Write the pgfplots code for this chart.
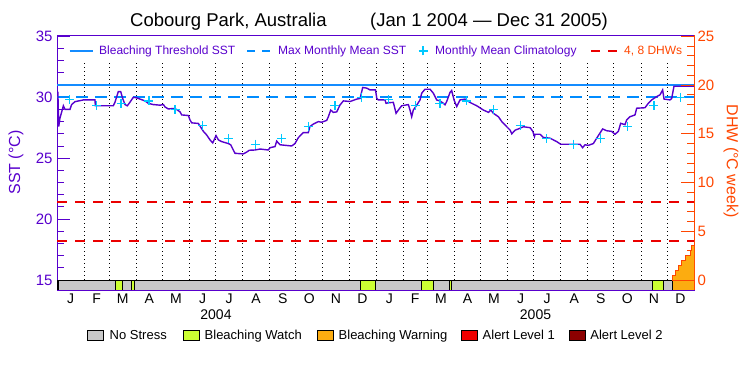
\documentclass[border=0pt]{standalone}
\usepackage{pgfplots}
\pgfplotsset{compat=1.18}
\usepackage{fontspec}
\setmainfont{Liberation Sans}
\definecolor{sstc}{RGB}{88,0,205}
\definecolor{thrc}{RGB}{20,140,255}
\definecolor{mmmblue}{RGB}{0,140,255}
\definecolor{climc}{RGB}{0,200,255}
\definecolor{dhwc}{RGB}{255,70,0}
\definecolor{dhwline}{RGB}{235,0,0}
\definecolor{nostress}{RGB}{200,200,200}
\definecolor{watch}{RGB}{204,255,51}
\definecolor{warning}{RGB}{252,172,16}
\definecolor{alertone}{RGB}{240,0,0}
\definecolor{alerttwo}{RGB}{140,0,0}
\newcommand\seg[3]{\addplot[fill=#3, draw=black, line width=0.8pt, forget plot] coordinates {(#1,14.179)(#1,15)(#2,15)(#2,14.179)} -- cycle;}
\begin{document}
\begin{tikzpicture}
\useasboundingbox (0pt,0pt) rectangle (750pt,375pt);
\begin{axis}[
  name=main,
  at={(57pt,85pt)}, anchor=south west, width=637pt, height=255pt, scale only axis,
  xmin=0, xmax=731, ymin=14.179, ymax=35.11,
  axis line style={line width=0.9pt},
  y axis line style={sstc},
  ytick={15,20,25,30,35}, minor y tick num=4,
  ytick pos=left, tick align=inside,
  major tick length=13pt, minor tick length=7pt,
  ytick style={sstc, line width=0.9pt},
  yticklabel style={sstc, font=\fontsize{15}{15}\selectfont, xshift=-1pt},
  xtick={15.5,45.5,75.5,106,136.5,167,197.5,228.5,259,289.5,320,350.5,381.5,411,440.5,471,501.5,532,562.5,593.5,624,654.5,685,715.5},
  xticklabels={J,F,M,A,M,J,J,A,S,O,N,D,J,F,M,A,M,J,J,A,S,O,N,D},
  xtick style={draw=none}, xtick pos=bottom,
  xticklabel style={font=\fontsize{14}{14}\selectfont, black},
  /pgf/number format/assume math mode=true,
]
% month grid
\addplot[black, line width=0.7pt, dash pattern=on 1pt off 3pt, unbounded coords=jump, forget plot] coordinates {
(31,15)(31,32.8)(31,nan)(60,15)(60,32.8)(60,nan)(91,15)(91,32.8)(91,nan)(121,15)(121,32.8)(121,nan)
(152,15)(152,32.8)(152,nan)(182,15)(182,32.8)(182,nan)(213,15)(213,32.8)(213,nan)(244,15)(244,32.8)(244,nan)
(274,15)(274,32.8)(274,nan)(305,15)(305,32.8)(305,nan)(335,15)(335,32.8)(335,nan)(366,15)(366,32.8)(366,nan)
(397,15)(397,32.8)(397,nan)(425,15)(425,32.8)(425,nan)(456,15)(456,32.8)(456,nan)(486,15)(486,32.8)(486,nan)
(517,15)(517,32.8)(517,nan)(547,15)(547,32.8)(547,nan)(578,15)(578,32.8)(578,nan)(609,15)(609,32.8)(609,nan)
(639,15)(639,32.8)(639,nan)(670,15)(670,32.8)(670,nan)(700,15)(700,32.8)};
% threshold and max monthly mean
\addplot[thrc, line width=1.3pt, forget plot] coordinates {(0,31.0)(731,31.0)};
\addplot[mmmblue, line width=1.6pt, dashed, dash pattern=on 12pt off 7pt, forget plot] coordinates {(0,30.0)(731,30.0)};
% SST
\addplot[sstc, line width=1.4pt, forget plot] coordinates {
(0,30.5)(1,30.4)(2,27.6)(3.4,28.3)(5.4,28.8)(7.3,29.3)(9.2,29.0)(14.9,29.0)(16.8,29.4)(20.7,29.64)(26.4,29.72)(30.2,29.78)
(43.6,29.78)(44,29.3)(64.6,29.3)(66.6,29.6)(68.5,30.05)(70.4,30.46)(73.1,30.46)(75.4,29.9)(78.0,29.4)(80.7,29.3)(83.8,29.6)
(87.6,30.0)(91.4,29.95)(95.3,29.85)(101,29.7)(104.8,29.5)(110.6,29.4)(118.2,29.35)(122.1,29.4)(124,29.2)(127.8,29.04)
(133.6,29.08)(137.3,29.0)(141.2,28.8)(143.1,28.55)(150.8,28.5)(152.6,28.14)(154.6,27.9)(162.2,27.85)(168,27.2)(171.8,26.9)
(175.6,26.5)(178.7,26.25)(182.5,26.85)(185.2,26.5)(189,26.36)(196.6,26.2)(199.3,26.1)(202.3,25.67)(204.3,25.4)(213.8,25.35)
(217.7,25.5)(220.7,25.65)(227.2,25.67)(233,25.75)(242.5,25.67)(244.4,25.86)(250.2,25.95)(252.1,26.4)(255.9,26.1)(269.3,26.0)
(273.1,26.2)(276.9,26.68)(282.7,27.1)(288.4,27.1)(290.3,27.6)(294.2,27.8)(299.9,28.0)(303.7,27.95)(309.5,28.1)(311.4,28.4)
(314.1,28.95)(317.1,28.76)(321,28.8)(324.8,29.37)(328.6,29.7)(336.3,29.65)(344,29.85)(347.8,29.9)(350.8,30.8)(355.4,30.75)
(359.2,30.6)(365.5,30.6)(367,29.9)(368.8,29.78)(376.4,29.78)(377.6,29.5)(380.3,29.55)(386,29.58)(389.1,28.68)(391.7,28.95)
(395.5,29.3)(403.2,29.4)(405.1,28.95)(407,28.4)(408.9,28.95)(412.8,29.35)(416.6,29.78)(418.5,30.33)(422.3,30.66)(428.1,30.66)
(431.9,30.33)(435.7,29.78)(439.5,29.7)(443.4,29.5)(445.3,29.38)(447.2,29.65)(451,30.4)(452.9,30.55)(455.6,29.78)(458.7,29.24)
(462.5,29.78)(468.3,29.85)(474,29.57)(481.7,29.3)(489.3,28.95)(495.1,28.76)(497.8,28.95)(500.8,28.68)(506.6,28.4)(510.4,28.0)
(516.1,27.58)(520,27.3)(521.9,27.0)(525.7,27.3)(529.5,27.4)(535.3,27.58)(543,27.5)(546,27.2)(547.9,26.77)(548.6,26.96)
(554.3,26.96)(558.1,26.7)(565.8,26.64)(569.6,26.5)(573.4,26.36)(578,26.14)(600.2,26.14)(603.2,25.86)(605.9,26.1)(609.7,26.05)
(615.5,26.2)(619.3,26.64)(623.1,27.06)(626.2,27.4)(630.8,27.25)(636.5,27.2)(640.3,26.96)(644.2,27.2)(646.8,27.86)(651.8,27.75)
(653.7,28.14)(657.5,28.4)(663.3,28.55)(665.2,29.1)(674.7,29.14)(678.5,29.5)(682.4,29.78)(688.1,30.05)(692,30.2)(695,30.6)
(696.6,29.85)(703.5,29.78)(705.4,29.9)(708,30.9)(731,30.9)};
% climatology
\addplot[climc, only marks, mark=+, mark size=4.5pt, mark options={line width=1.2pt}, forget plot] coordinates {
(14.5,29.8)(45.5,29.3)(73.5,29.5)(105.5,29.7)(135.5,29.0)(167,27.7)(196.5,26.6)(227.5,26.15)(258,26.6)(288.5,27.6)(319,29.3)(349.5,30.0)
(380.5,29.8)(411,29.3)(439.5,29.5)(470,29.7)(501,29.0)(531.5,27.7)(561.5,26.6)(592.5,26.15)(624,26.6)(654.5,27.6)(685,29.3)(715.5,30.0)};
% stress bar
\seg{0}{1.8}{watch}
\seg{1.8}{66.6}{nostress}
\seg{66.6}{74.6}{watch}
\seg{74.6}{85}{nostress}
\seg{85}{88.4}{watch}
\seg{88.4}{348.5}{nostress}
\seg{348.5}{365.7}{watch}
\seg{365.7}{418.5}{nostress}
\seg{418.5}{431.8}{watch}
\seg{431.8}{450.2}{nostress}
\seg{450.2}{452.2}{watch}
\seg{452.2}{683.6}{nostress}
\seg{683.6}{695.8}{watch}
\seg{695.8}{706.2}{nostress}
\seg{706.2}{731}{warning}
\end{axis}
\begin{axis}[
  at={(57pt,85pt)}, anchor=south west, width=637pt, height=255pt, scale only axis,
  xmin=0, xmax=731, ymin=-1.026, ymax=25.14,
  axis y line*=right, axis x line=none,
  y axis line style={dhwc, line width=0.9pt, -},
  ytick={0,5,10,15,20,25}, minor y tick num=4,
  tick align=inside, ytick align=inside,
  major tick length=13pt, minor tick length=7pt,
  ytick style={dhwc, line width=0.9pt},
  yticklabel style={dhwc, font=\fontsize{15}{15}\selectfont, xshift=0pt},
  /pgf/number format/assume math mode=true,
]
\addplot[dhwline, line width=1.2pt, dash pattern=on 10pt off 8pt, forget plot] coordinates {(0,4)(731,4)};
\addplot[dhwline, line width=1.2pt, dash pattern=on 10pt off 8pt, forget plot] coordinates {(0,8)(731,8)};
\addplot[const plot, fill=warning, draw=dhwc, line width=1pt, forget plot] coordinates {
(706.2,0.5)(709.2,1.0)(713,1.5)(716.9,2.0)(720.7,2.5)(726.4,3.0)(728.4,3.5)(731,3.5)} \closedcycle;
\end{axis}
% title
\node[anchor=base west, inner sep=0, font=\fontsize{18.5}{18.5}\selectfont] at (130pt,348.5pt) {Cobourg Park, Australia};
\node[anchor=base west, inner sep=0, font=\fontsize{18.5}{18.5}\selectfont] at (370pt,348.5pt) {(Jan 1 2004 --- Dec 31 2005)};
% axis labels
\node[rotate=90, text=sstc, font=\fontsize{16}{16}\selectfont] at (16pt,212.5pt) {SST (°C)};
\node[rotate=-90, text=dhwc, font=\fontsize{16}{16}\selectfont] at (731pt,214pt) {DHW (°C week)};
% top legend
\draw[thrc, line width=1.3pt] (69.5pt,324pt) -- (92.5pt,324pt);
\node[anchor=base west, inner sep=0, text=sstc, font=\fontsize{12}{12}\selectfont] at (99pt,320pt) {Bleaching Threshold SST};
\draw[mmmblue, line width=1.3pt, dash pattern=on 8pt off 7pt] (247pt,324pt) -- (270pt,324pt);
\node[anchor=base west, inner sep=0, text=sstc, font=\fontsize{12}{12}\selectfont] at (278pt,320pt) {Max Monthly Mean SST};
\draw[climc, line width=1.2pt] (418.5pt,324pt) -- (427.5pt,324pt) (423pt,319.5pt) -- (423pt,328.5pt);
\node[anchor=base west, inner sep=0, text=sstc, font=\fontsize{12}{12}\selectfont] at (435pt,320pt) {Monthly Mean Climatology};
\draw[dhwline, line width=1.2pt, dash pattern=on 9pt off 8pt] (591.3pt,324pt) -- (617.8pt,324pt);
\node[anchor=base west, inner sep=0, text=dhwc, font=\fontsize{12}{12}\selectfont] at (624pt,320pt) {4, 8 DHWs};
% years
\node[anchor=base, inner sep=0, font=\fontsize{14}{14}\selectfont] at (216pt,55pt) {2004};
\node[anchor=base, inner sep=0, font=\fontsize{14}{14}\selectfont] at (535.5pt,55pt) {2005};
% bottom legend
\begin{scope}[line width=0.8pt]
\filldraw[fill=nostress, draw=black] (87.3pt,35pt) rectangle (103.3pt,45pt);
\node[anchor=base west, inner sep=0, font=\fontsize{13}{13}\selectfont] at (109.3pt,35pt) {No Stress};
\filldraw[fill=watch, draw=black] (183.3pt,35pt) rectangle (199.3pt,45pt);
\node[anchor=base west, inner sep=0, font=\fontsize{13}{13}\selectfont] at (204.3pt,35pt) {Bleaching Watch};
\filldraw[fill=warning, draw=black] (317.3pt,35pt) rectangle (333.3pt,45pt);
\node[anchor=base west, inner sep=0, font=\fontsize{13}{13}\selectfont] at (338.3pt,35pt) {Bleaching Warning};
\filldraw[fill=alertone, draw=black] (461.7pt,35pt) rectangle (477.5pt,45pt);
\node[anchor=base west, inner sep=0, font=\fontsize{13}{13}\selectfont] at (482.3pt,35pt) {Alert Level 1};
\filldraw[fill=alerttwo, draw=black] (569.3pt,35pt) rectangle (585.2pt,45pt);
\node[anchor=base west, inner sep=0, font=\fontsize{13}{13}\selectfont] at (590pt,35pt) {Alert Level 2};
\end{scope}
\end{tikzpicture}
\end{document}
